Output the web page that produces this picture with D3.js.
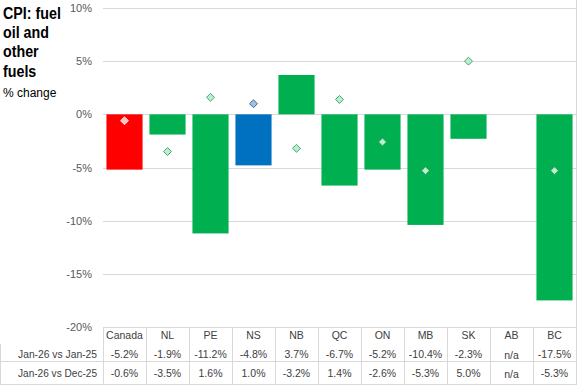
<!DOCTYPE html>
<html>
<head>
<meta charset="utf-8">
<title>CPI: fuel oil and other fuels</title>
<script src="https://cdn.jsdelivr.net/npm/d3@7/dist/d3.min.js"></script>
<style>
  body { margin: 0; background: #fff; }
  svg { display: block; font-family: "Liberation Sans", Arial, sans-serif; }
</style>
</head>
<body>
<div id="chart"></div>
<script>
// data
var regions   = ["Canada", "NL", "PE", "NS", "NB", "QC", "ON", "MB", "SK", "AB", "BC"];
var yearOnYear = [-5.2, -1.9, -11.2, -4.8, 3.7, -6.7, -5.2, -10.4, -2.3, null, -17.5];
var monthOnMonth = [-0.6, -3.5, 1.6, 1.0, -3.2, 1.4, -2.6, -5.3, 5.0, null, -5.3];
var rowLabels = ["Jan-26 vs Jan-25", "Jan-26 vs Dec-25"];
var yTicks = [10, 5, 0, -5, -10, -15, -20];

var width = 577, height = 385;
var grid = "#d9d9d9", textCol = "#404040";

var svg = d3.select("#chart").append("svg")
  .attr("width", width)
  .attr("height", height);

var x = d3.scaleBand().domain(regions).range([103, 576]).padding(0);
var y = d3.scaleLinear().domain([-20, 10]).range([327, 8]);
var barW = x.bandwidth() * 0.84;

function barColor(d) {
  if (d === "Canada") return "#ff0000";
  if (d === "NS") return "#0070c0";
  return "#00b050";
}
function markFill(d) {
  if (d === "Canada") return "#ffc0c0";
  if (d === "NS") return "#9dc3e6";
  return "#b4f2cf";
}
function markStroke(d) {
  if (d === "Canada") return "#ffffff";
  if (d === "NS") return "#1f4e79";
  return "#2e8b57";
}

// gridlines
svg.append("g").selectAll("line").data(yTicks).enter().append("line")
  .attr("x1", 103).attr("x2", 576)
  .attr("y1", function(d) { return Math.round(y(d)) + 0.5; })
  .attr("y2", function(d) { return Math.round(y(d)) + 0.5; })
  .style("stroke", grid);

// tick labels
var yAxis = d3.axisLeft(y).tickValues(yTicks).tickSize(0).tickPadding(0)
  .tickFormat(function(d) { return d + "%"; });
var ga = svg.append("g").attr("transform", "translate(92,0)").call(yAxis);
ga.select(".domain").remove();
ga.selectAll("text").style("font-size", "11px").style("fill", "#595959")
  .style("font-family", "'Liberation Sans', Arial, sans-serif");

// bars
var rows = regions.map(function(r, i) { return { r: r, a: yearOnYear[i], b: monthOnMonth[i] }; });
svg.append("g").selectAll("rect").data(rows.filter(function(d) { return d.a !== null; }))
  .enter().append("rect")
  .attr("x", function(d) { return x(d.r) + (x.bandwidth() - barW) / 2; })
  .attr("width", barW)
  .attr("y", function(d) { return y(Math.max(0, d.a)); })
  .attr("height", function(d) { return Math.abs(y(d.a) - y(0)); })
  .style("fill", function(d) { return barColor(d.r); });

// diamond markers
var diamond = d3.symbol().type(d3.symbolDiamond2).size(40);
svg.append("g").selectAll("path").data(rows.filter(function(d) { return d.b !== null; }))
  .enter().append("path")
  .attr("d", diamond)
  .attr("transform", function(d) {
    return "translate(" + (x(d.r) + x.bandwidth() / 2) + "," + y(d.b) + ")";
  })
  .style("fill", function(d) { return markFill(d.r); })
  .style("stroke", function(d) { return markStroke(d.r); })
  .style("stroke-width", 0.8);

// data table
var tTop = 327, tSplit = 361, tBot = 384;
var tab = svg.append("g");
tab.selectAll("line.v").data(regions.concat(["end"])).enter().append("line")
  .attr("x1", function(d, i) { return Math.round(103 + i * x.bandwidth()) + 0.5; })
  .attr("x2", function(d, i) { return Math.round(103 + i * x.bandwidth()) + 0.5; })
  .attr("y1", tTop).attr("y2", tBot)
  .style("stroke", grid);
tab.append("line").attr("x1", 0).attr("x2", 577).attr("y1", tSplit + 0.5).attr("y2", tSplit + 0.5).style("stroke", grid);
tab.append("line").attr("x1", 0).attr("x2", 577).attr("y1", tBot + 0.5).attr("y2", tBot + 0.5).style("stroke", grid);
tab.append("line").attr("x1", 0.5).attr("x2", 0.5).attr("y1", 344).attr("y2", tBot).style("stroke", grid);
tab.append("line").attr("x1", 576.5).attr("x2", 576.5).attr("y1", 0).attr("y2", tBot).style("stroke", grid);

function fmt(v) { return v === null ? "n/a" : v.toFixed(1) + "%"; }

tab.selectAll("text.cat").data(regions).enter().append("text")
  .attr("x", function(d) { return x(d) + x.bandwidth() / 2; })
  .attr("y", 339)
  .attr("text-anchor", "middle")
  .style("font-size", "10.5px").style("fill", textCol)
  .text(function(d) { return d; });

[yearOnYear, monthOnMonth].forEach(function(vals, k) {
  var ty = k === 0 ? 358 : 377;
  tab.append("text").attr("x", 18).attr("y", ty)
    .style("font-size", "10.5px").style("fill", textCol)
    .attr("textLength", 79).attr("lengthAdjust", "spacingAndGlyphs")
    .text(rowLabels[k]);
  tab.selectAll("text.v" + k).data(vals).enter().append("text")
    .attr("x", function(d, i) { return x(regions[i]) + x.bandwidth() / 2; })
    .attr("y", function(d) { return d === null ? ty + 1 : ty; })
    .attr("text-anchor", "middle")
    .style("font-size", "10.5px").style("fill", textCol)
    .text(fmt);
});

// title (narrow bold look)
var title = svg.append("text").attr("transform", "translate(3,0) scale(0.84,1)")
  .style("font-size", "17px").style("font-weight", "bold").style("fill", "#000");
["CPI: fuel", "oil and", "other", "fuels"].forEach(function(t, i) {
  title.append("tspan").attr("x", 0).attr("y", 19 + i * 19.2).text(t);
});
svg.append("text").attr("x", 3).attr("y", 97)
  .style("font-size", "12px").style("fill", "#000").text("% change");
</script>
</body>
</html>
